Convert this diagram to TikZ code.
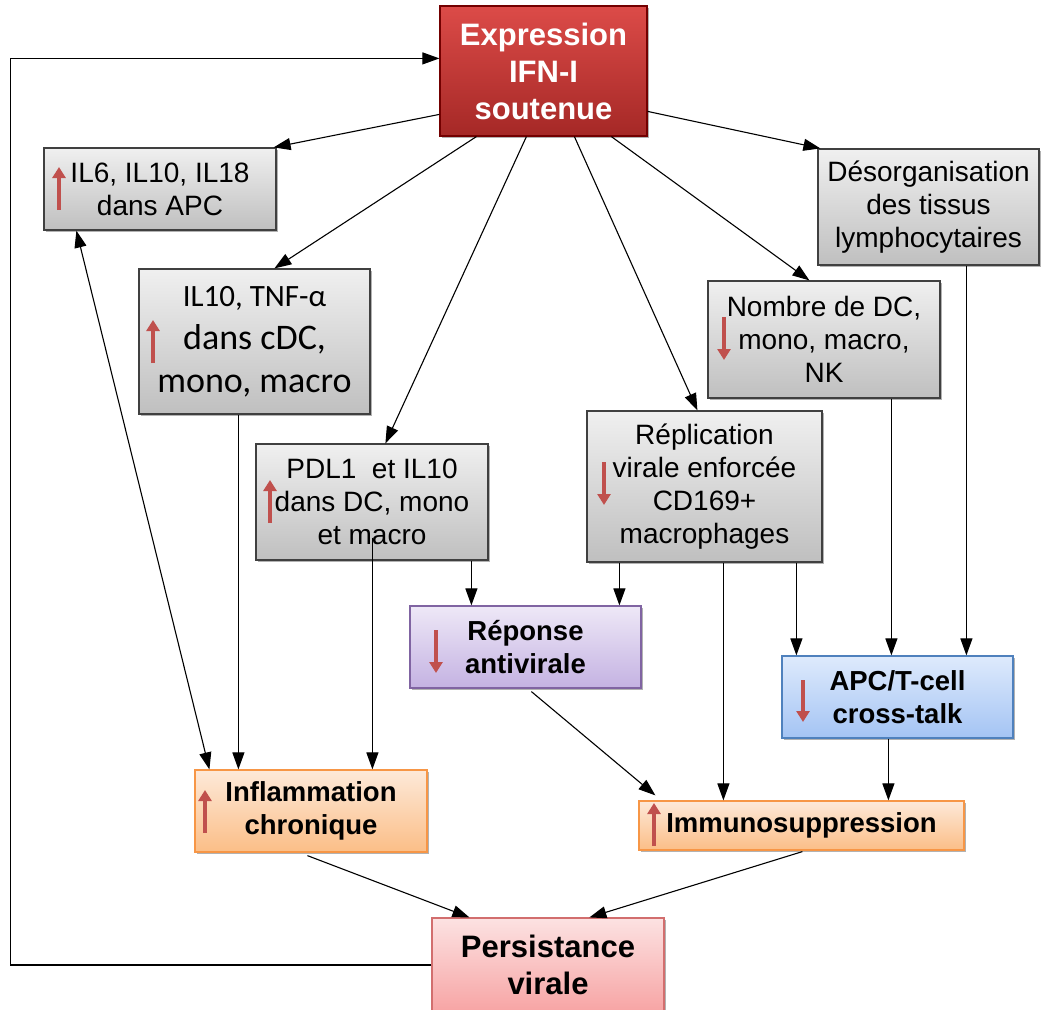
\documentclass[tikz,border=0pt]{standalone}
\usepackage{fontspec}
\setmainfont{Liberation Sans}
\newfontfamily\calib{Carlito}
\usetikzlibrary{arrows.meta,shadows,calc}
\definecolor{redarrow}{HTML}{C0504D}
\tikzset{
  sz/.style 2 args={minimum width=#1pt, minimum height=#2pt},
  box/.style={draw, line width=1.2pt, inner sep=0pt, align=center,
    drop shadow={shadow xshift=1.5pt, shadow yshift=-2pt, opacity=0.3, fill=black},
    font=\fontsize{28}{33}\selectfont},
  graybox/.style={box, draw=black!75, top color=black!6, bottom color=black!25},
  ifnbox/.style={box, draw=red!45!black, top color={rgb,255:red,220;green,75;blue,72}, bottom color={rgb,255:red,165;green,40;blue,38},
    text=white, font=\bfseries\fontsize{31}{37}\selectfont},
  purplebox/.style={box, draw={rgb,255:red,128;green,100;blue,162}, top color={rgb,255:red,238;green,232;blue,247}, bottom color={rgb,255:red,196;green,178;blue,226},
    font=\bfseries\fontsize{27.5}{33}\selectfont},
  bluebox/.style={box, draw={rgb,255:red,79;green,129;blue,189}, top color={rgb,255:red,222;green,234;blue,252}, bottom color={rgb,255:red,164;green,196;blue,244},
    font=\bfseries\fontsize{27.5}{33}\selectfont},
  orangebox/.style={box, draw={rgb,255:red,247;green,150;blue,70}, top color={rgb,255:red,253;green,233;blue,217}, bottom color={rgb,255:red,251;green,190;blue,135},
    font=\bfseries\fontsize{27.5}{33}\selectfont},
  pinkbox/.style={box, draw={rgb,255:red,210;green,110;blue,110}, top color={rgb,255:red,252;green,226;blue,226}, bottom color={rgb,255:red,247;green,164;blue,164},
    font=\bfseries\fontsize{31}{37}\selectfont},
  arr/.style={line width=1.1pt, -{Triangle[length=17pt,width=12pt]}},
  darr/.style={line width=1.1pt, {Triangle[length=17pt,width=12pt]}-{Triangle[length=17pt,width=12pt]}},
  redarr/.style={draw=redarrow, line width=4.5pt, line cap=butt, -{Triangle[length=11pt,width=13pt]}}
}
\begin{document}
\begin{tikzpicture}[x=1pt,y=-1pt]
\useasboundingbox (0,0) rectangle (1041,1009);

% nodes
\node[ifnbox, sz={207}{130}] (ifn) at (543.5,71) {Expression\\IFN-I\\soutenue};
\node[graybox, sz={232}{82}] (il6) at (160,189) {IL6, IL10, IL18\\dans APC};
\node[graybox, sz={231}{145}, font=\calib\fontsize{36}{43}\selectfont] (il10) at (254.5,341.5)
  {{\fontsize{31}{43}\selectfont IL10, TNF-α}\\dans cDC,\\mono, macro};
\node[graybox, sz={232}{116}] (pdl) at (372,502) {PDL1\ \ et IL10\\dans DC, mono\\et macro};
\node[graybox, sz={235}{151}] (repl) at (704.5,486.5) {Réplication\\virale enforcée\\CD169+\\macrophages};
\node[graybox, sz={232}{117}] (nombre) at (824,339.5) {Nombre de DC,\\mono, macro,\\NK};
\node[graybox, sz={221}{116}] (desorg) at (928.5,207) {Désorganisation\\des tissus\\lymphocytaires};
\node[purplebox, sz={231}{82}] (rep) at (525.5,647) {Réponse\\antivirale};
\node[bluebox, sz={231}{82}] (apc) at (897.5,697) {APC/T-cell\\cross-talk};
\node[orangebox, sz={232}{82}] (infl) at (311,811) {Inflammation\\chronique};
\node[orangebox, sz={325}{49}] (immu) at (801.5,825.5) {Immunosuppression};
\node[pinkbox, sz={232}{94}] (pers) at (548,965) {Persistance\\virale};

% red up/down arrows
\draw[redarr] (59,210) -- (59,167);
\draw[redarr] (153,363) -- (153,320);
\draw[redarr] (270,523) -- (270,480);
\draw[redarr] (604,462) -- (604,505);
\draw[redarr] (724,317) -- (724,360);
\draw[redarr] (436,630) -- (436,673);
\draw[redarr] (803,680) -- (803,722);
\draw[redarr] (205,833) -- (205,790);
\draw[redarr] (654,846) -- (654,803);

% connectors
\draw[arr] (pers.west) -- ++(-421,0) |- ($(ifn.north west)+(0,53)$);
\draw[arr] ($(ifn.north west)+(0,109)$) -- ($(il6.north east)+(-3,0)$);
\draw[arr] ($(ifn.south west)+(37,0)$) -- ($(il10.north west)+(136,0)$);
\draw[arr] ($(ifn.south west)+(87,0)$) -- ($(pdl.north west)+(130,0)$);
\draw[arr] ($(ifn.south west)+(135,0)$) -- ($(repl.north west)+(111,0)$);
\draw[arr] ($(ifn.south west)+(172,0)$) -- ($(nombre.north west)+(102,0)$);
\draw[arr] ($(ifn.north east)+(0,106)$) -- ($(desorg.north west)+(3,0)$);
\draw[darr] ($(il6.south west)+(33,0)$) -- ($(infl.north west)+(15,0)$);
\draw[arr] ($(il10.south west)+(100,0)$) -- ($(infl.north west)+(44,0)$);
\draw[arr] ($(pdl.south west)+(117,-23)$) -- ($(infl.north west)+(178,0)$);
\draw[arr] ($(pdl.south west)+(216,0)$) -- ($(rep.north west)+(62,0)$);
\draw[arr] ($(repl.south west)+(33,0)$) -- ($(rep.north west)+(210,0)$);
\draw[arr] ($(repl.south west)+(137,0)$) -- ($(immu.north west)+(85,0)$);
\draw[arr] ($(repl.south west)+(210,0)$) -- ($(apc.north west)+(15,0)$);
\draw[arr] ($(nombre.south west)+(184,0)$) -- ($(apc.north west)+(110,0)$);
\draw[arr] ($(desorg.south west)+(149,0)$) -- ($(apc.north west)+(185,0)$);
\draw[arr] ($(rep.south west)+(122,3)$) -- ($(immu.north west)+(17,-5)$);
\draw[arr] ($(apc.south west)+(107,0)$) -- ($(immu.north west)+(250,0)$);
\draw[arr] ($(infl.south west)+(113,3)$) -- ($(pers.north west)+(38,0)$);
\draw[arr] ($(immu.south west)+(164,1)$) -- ($(pers.north west)+(158,0)$);
\end{tikzpicture}
\end{document}
